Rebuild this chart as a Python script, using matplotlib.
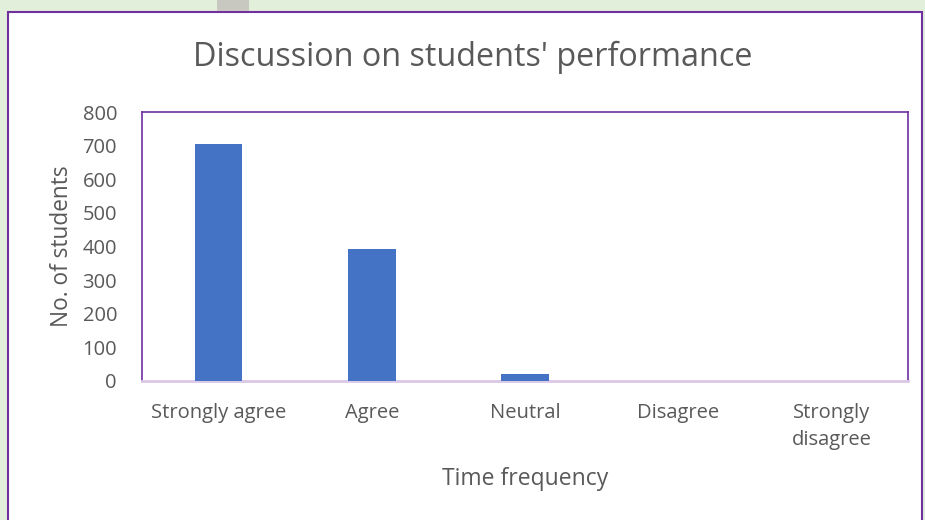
import matplotlib
matplotlib.use("Agg")
import matplotlib.pyplot as plt
from matplotlib.patches import Rectangle

# data
categories = ["Strongly agree", "Agree", "Neutral", "Disagree", "Strongly\ndisagree"]
counts = [705, 393, 20, 0, 0]
yticks = [0, 100, 200, 300, 400, 500, 600, 700, 800]

txt = "#595959"
purple = "#7030A0"
plt.rcParams['font.family'] = ['Open Sans', 'DejaVu Sans']

fig = plt.figure(figsize=(9.25, 5.2), dpi=100)
fig.patch.set_facecolor("#E2EFDA")

# white chart card with purple border
fig.patches.append(Rectangle((8/925, -0.01), (922-8)/925, 1.01 - 12/520, transform=fig.transFigure,
                             facecolor="white", edgecolor=purple, linewidth=1.5, zorder=-5))
fig.patches.append(Rectangle((217/925, 1 - 11/520), 32/925, 11/520, transform=fig.transFigure,
                             facecolor="#C8C8C0", edgecolor="none", zorder=-5))

ax = fig.add_axes([142/925, 1 - 381/520, (908-142)/925, (381-112)/520])
ax.set_zorder(2)
ax.set_facecolor("white")
ax.bar(range(len(categories)), counts, width=0.31, color="#4472C4", zorder=3)

ax.set_xlim(-0.5, len(categories) - 0.5)
ax.set_ylim(0, 800)
ax.set_yticks(yticks)
ax.set_xticks(range(len(categories)))
ax.set_xticklabels(categories, fontsize=14.5, color=txt, linespacing=1.45)
ax.tick_params(axis="y", labelsize=14.5, colors=txt, length=0, pad=18)
ax.tick_params(axis="x", length=0, pad=16, colors=txt)

for side in ["left", "top", "right"]:
    ax.spines[side].set_color(purple)
    ax.spines[side].set_linewidth(1.2)
ax.spines["bottom"].set_color("#D9C8E6")
ax.spines["bottom"].set_linewidth(2)

ax.set_ylabel("No. of students", fontsize=16.3, color=txt, labelpad=6)
ax.set_xlabel("Time frequency", fontsize=16.5, color=txt, labelpad=12)
fig.text(473/925, 1 - 57/520, "Discussion on students' performance", ha="center", va="center",
         fontsize=23.3, color=txt)

fig.savefig("out.png", dpi=100, facecolor=fig.get_facecolor())
